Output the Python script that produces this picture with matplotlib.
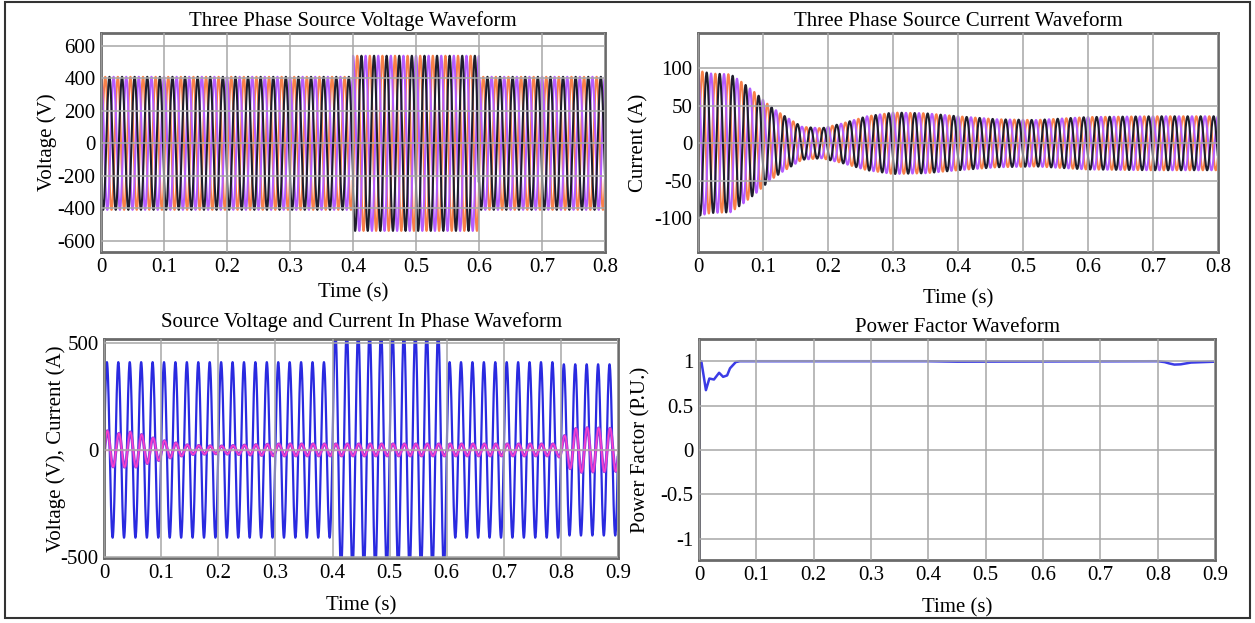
import numpy as np
import matplotlib
matplotlib.use('Agg')
import matplotlib.pyplot as plt
from matplotlib.patches import Rectangle

# --- donnees ---
freq = 50.0
phase_names = ['A', 'B', 'C']
phase_deg = [-150, -30, 90]                    # black, orange, violet
phase_colors = ['#1e1e2c', '#f8804a', '#b45cff']

# tension source triphasee : amplitude par intervalle (s, V)
volt_edges = [0.0, 0.4, 0.6, 0.8]
volt_amp = [410, 540, 410]

# courant source triphase : enveloppe (s, A)
cur_t = [0.0, 0.02, 0.05, 0.07, 0.09, 0.11, 0.13, 0.16, 0.19, 0.22, 0.26, 0.30, 0.35, 0.40, 0.46, 0.52, 0.60, 0.70, 0.80]
cur_amp = [97, 93, 92, 80, 66, 50, 38, 22, 20, 26, 36, 41, 40, 36, 32, 31, 35, 36, 36]

# tension / courant en phase (phase A)
pv_edges = [0.0, 0.4, 0.6, 0.8, 0.9]
pv_volt_amp = [410, 560, 410, 400]
pi_t = [0.0, 0.02, 0.05, 0.08, 0.11, 0.15, 0.20, 0.30, 0.795, 0.81, 0.83, 0.90]
pi_amp = [95, 75, 85, 60, 40, 22, 18, 28, 28, 80, 105, 100]

# facteur de puissance
pf_t = [0.0, 0.0005, 0.004, 0.012, 0.018, 0.026, 0.035, 0.042, 0.049, 0.054, 0.064, 0.071,
        0.40, 0.45, 0.80, 0.812, 0.82, 0.829, 0.84, 0.858, 0.90]
pf_val = [-1.35, 1.0, 1.0, 0.674, 0.805, 0.794, 0.87, 0.824, 0.84, 0.92, 0.99, 1.0,
          1.0, 0.995, 1.0, 0.99, 0.975, 0.962, 0.965, 0.985, 0.995]

plt.rcParams['font.family'] = 'Liberation Serif'
plt.rcParams['axes.unicode_minus'] = False

FS = 15


def piecewise(t, edges, amps):
    idx = np.clip(np.searchsorted(edges, t, side='right') - 1, 0, len(amps) - 1)
    return np.asarray(amps)[idx]


def style_axes(ax, xticks, yticks, ylim, xlim):
    ax.set_xlim(xlim)
    ax.set_ylim(ylim)
    ax.set_xticks(xticks)
    ax.set_xticklabels(['0'] + ['%g' % v for v in xticks[1:]])
    ax.set_yticks(yticks)
    ax.set_yticklabels(['%g' % v for v in yticks])
    ax.grid(True, color='#a8a8a8', lw=1.3, alpha=0.85)
    ax.set_axisbelow(False)
    ax.tick_params(length=0, labelsize=FS, pad=4)
    for s in ax.spines.values():
        s.set_color('#6a6a6a')
        s.set_linewidth(2.0)


fig = plt.figure(figsize=(12.55, 6.23), dpi=100)
fig.patches.append(Rectangle((5 / 1255, 5 / 623), 1245 / 1255, 616 / 623, transform=fig.transFigure,
                             fill=False, edgecolor='#333333', lw=1.5))

w = 2 * np.pi * freq

# Three phase voltage
ax1 = fig.add_axes([0.0805, 0.5955, 0.4016, 0.3515])
t = np.arange(0, 0.8, 0.0002)
amp = piecewise(t, volt_edges, volt_amp)
for i in [1, 2, 0]:
    ax1.plot(t, amp * np.sin(w * t + np.radians(phase_deg[i])), color=phase_colors[i], lw=1.5)
style_axes(ax1, [0, 0.1, 0.2, 0.3, 0.4, 0.5, 0.6, 0.7, 0.8], [-600, -400, -200, 0, 200, 400, 600],
           (-670, 680), (0, 0.8))
ax1.set_title('Three Phase Source Voltage Waveform', fontsize=FS, pad=5)
ax1.set_xlabel('Time (s)', fontsize=FS, labelpad=5)
ax1.set_ylabel('Voltage (V)', fontsize=FS, labelpad=0)

# Three phase current
ax2 = fig.add_axes([0.5562, 0.5955, 0.4143, 0.3515])
env = np.interp(t, cur_t, cur_amp)
for i in [1, 2, 0]:
    ax2.plot(t, env * np.sin(w * t + np.radians(phase_deg[i])), color=phase_colors[i], lw=1.5)
style_axes(ax2, [0, 0.1, 0.2, 0.3, 0.4, 0.5, 0.6, 0.7, 0.8], [-100, -50, 0, 50, 100],
           (-145, 147), (0, 0.8))
ax2.set_title('Three Phase Source Current Waveform', fontsize=FS, pad=5)
ax2.set_xlabel('Time (s)', fontsize=FS, labelpad=9)
ax2.set_ylabel('Current (A)', fontsize=FS, labelpad=4)

# Voltage and current in phase
ax3 = fig.add_axes([0.0829, 0.1043, 0.4096, 0.3515])
t3 = np.arange(0, 0.9, 0.0002)
va = piecewise(t3, pv_edges, pv_volt_amp)
ia = np.interp(t3, pi_t, pi_amp)
ax3.plot(t3, va * np.sin(w * t3), color='#2a2ae0', lw=1.6)
ax3.axhline(0, color='#ff80c0', lw=1.0)
ax3.plot(t3, ia * np.sin(w * t3 - 0.3), color='#9a3ce0', lw=2.2)
ax3.plot(t3, ia * np.sin(w * t3 - 0.3), color='#ff40c8', lw=1.0)
style_axes(ax3, [0, 0.1, 0.2, 0.3, 0.4, 0.5, 0.6, 0.7, 0.8, 0.9], [-500, 0, 500],
           (-505, 518), (0, 0.9))
ax3.set_title('Source Voltage and Current In Phase Waveform', fontsize=FS, pad=9)
ax3.set_xlabel('Time (s)', fontsize=FS, labelpad=10)
ax3.set_ylabel('Voltage (V), Current (A)', fontsize=FS, labelpad=-4)

# Power factor
ax4 = fig.add_axes([0.557, 0.1011, 0.4112, 0.3547])
ax4.plot(pf_t, pf_val, color='#3c3ce6', lw=1.8)
style_axes(ax4, [0, 0.1, 0.2, 0.3, 0.4, 0.5, 0.6, 0.7, 0.8, 0.9], [-1, -0.5, 0, 0.5, 1],
           (-1.24, 1.25), (0, 0.9))
ax4.set_title('Power Factor Waveform', fontsize=FS, pad=5)
ax4.set_xlabel('Time (s)', fontsize=FS, labelpad=10)
ax4.set_ylabel('Power Factor (P.U.)', fontsize=FS, labelpad=7)

fig.savefig('out.png', dpi=100)
